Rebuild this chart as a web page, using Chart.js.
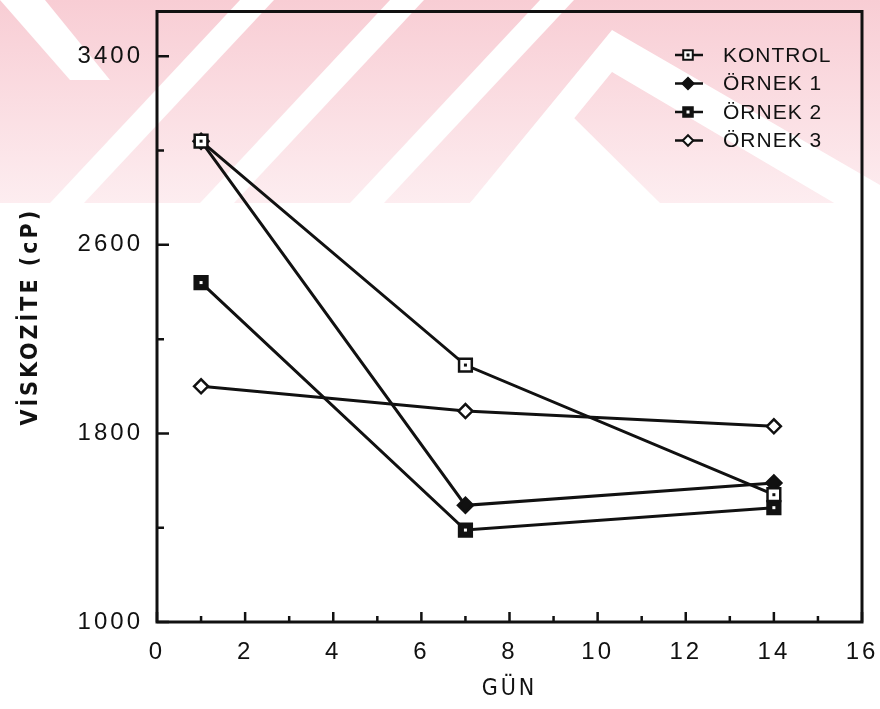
<!DOCTYPE html>
<html>
<head>
<meta charset="utf-8">
<title>Viskozite</title>
<script src="https://cdn.jsdelivr.net/npm/chart.js@4.4.1/dist/chart.umd.min.js"></script>
<style>
    html, body { margin: 0; padding: 0; background: #fff; }
    #wrap { width: 880px; height: 709px; }
</style>
</head>
<body>
<div id="wrap"><canvas id="chart" width="880" height="709"></canvas></div>
<script>
// Days of measurement (x axis)
const days = [1, 7, 14];

// Viscosity values (cP)
const kontrol = [3040, 2090, 1540];
const ornek1 = [3040, 1495, 1590];
const ornek2 = [2440, 1390, 1485];
const ornek3 = [2000, 1895, 1830];

const seriesNames = ["KONTROL", "ÖRNEK 1", "ÖRNEK 2", "ÖRNEK 3"];

// Axis ticks
const xMajorTicks = [0, 2, 4, 6, 8, 10, 12, 14, 16];
const xMinorTicks = [1, 3, 5, 7, 9, 11, 13, 15];
const yMajorTicks = [1000, 1800, 2600, 3400];
const yMinorTicks = [1400, 2200, 3000];

const INK = "#111";
const tickFont = '"Liberation Sans", Arial, sans-serif';
const titleFont = '"Liberation Sans Narrow", "DejaVu Sans Condensed", "DejaVu Sans", sans-serif';

function toPoints(values) {
    return days.map((d, i) => ({ x: d, y: values[i] }));
}

// Draw a square or diamond marker (used for the legend)
function drawMarker(ctx, style, r, x, y, fill) {
    ctx.beginPath();
    if (style === "rect") {
        const s = r * Math.SQRT1_2;
        ctx.rect(x - s, y - s, 2 * s, 2 * s);
    } else {
        ctx.moveTo(x - r, y);
        ctx.lineTo(x, y - r);
        ctx.lineTo(x + r, y);
        ctx.lineTo(x, y + r);
        ctx.closePath();
    }
    ctx.fillStyle = fill;
    ctx.fill();
    ctx.stroke();
}

// Pale pink watermark band behind the top of the figure
const watermark = {
    id: "watermark",
    beforeDraw(chart) {
        const ctx = chart.ctx;
        const band = 203;
        ctx.save();
        ctx.fillStyle = "#fff";
        ctx.fillRect(0, 0, chart.width, chart.height);
        const g = ctx.createLinearGradient(0, 0, 0, band);
        g.addColorStop(0, "#f8cdd4");
        g.addColorStop(1, "#fdedf0");
        ctx.fillStyle = g;
        ctx.fillRect(0, 0, chart.width, band);
        ctx.beginPath();
        ctx.rect(0, 0, chart.width, band);
        ctx.clip();
        ctx.fillStyle = "#fff";
        const poly = (pts) => {
            ctx.beginPath();
            pts.forEach((p, i) => (i ? ctx.lineTo(p[0], p[1]) : ctx.moveTo(p[0], p[1])));
            ctx.closePath();
            ctx.fill();
        };
        // "/" stripes
        [50, 200, 350].forEach((x0) => {
            poly([[x0, band], [x0 + 34, band], [x0 + 34 + 190, 0], [x0 + 190, 0]]);
        });
        // "\" stripe top left
        poly([[0, 0], [45, 0], [110, 80], [70, 80]]);
        // chevron on the right
        poly([[563, 107], [470, band], [660, band]]);
        poly([[612, 30], [470, 203], [505, 203], [612, 72], [880, 230], [880, 185]]);
        ctx.restore();

        // letter spacing for tick labels and titles
        ctx.letterSpacing = "3px";
    },
    beforeDatasetsDraw(chart) {
        chart.ctx.letterSpacing = "0px";
    }
};

// Frame and inward tick marks
const frame = {
    id: "frame",
    beforeDatasetsDraw(chart) {
        const { ctx, chartArea: a, scales } = chart;
        ctx.save();
        ctx.strokeStyle = INK;
        ctx.lineWidth = 3;
        ctx.strokeRect(a.left, a.top, a.right - a.left, a.bottom - a.top);
        ctx.lineWidth = 2.5;
        ctx.beginPath();
        xMajorTicks.forEach((v) => {
            const px = scales.x.getPixelForValue(v);
            ctx.moveTo(px, a.bottom);
            ctx.lineTo(px, a.bottom - 10);
        });
        xMinorTicks.forEach((v) => {
            const px = scales.x.getPixelForValue(v);
            ctx.moveTo(px, a.bottom);
            ctx.lineTo(px, a.bottom - 6);
        });
        yMajorTicks.forEach((v) => {
            const py = scales.y.getPixelForValue(v);
            ctx.moveTo(a.left, py);
            ctx.lineTo(a.left + 12, py);
        });
        yMinorTicks.forEach((v) => {
            const py = scales.y.getPixelForValue(v);
            ctx.moveTo(a.left, py);
            ctx.lineTo(a.left + 7, py);
        });
        ctx.stroke();
        ctx.restore();
    }
};

// Small dot in the centre of the square markers
const centerDots = {
    id: "centerDots",
    afterDatasetsDraw(chart) {
        const ctx = chart.ctx;
        ctx.save();
        chart.data.datasets.forEach((ds, i) => {
            if (!ds.centerDot) return;
            ctx.fillStyle = ds.centerDot;
            chart.getDatasetMeta(i).data.forEach((pt) => {
                ctx.fillRect(pt.x - 1.5, pt.y - 1.5, 3, 3);
            });
        });
        ctx.restore();
    }
};

// Legend in the top right corner of the plot
const legendBox = {
    id: "legendBox",
    afterDraw(chart) {
        const ctx = chart.ctx;
        ctx.save();
        chart.data.datasets.forEach((ds, i) => {
            const y = 55 + i * 28.5;
            ctx.strokeStyle = INK;
            ctx.lineWidth = 2.5;
            ctx.beginPath();
            ctx.moveTo(675, y);
            ctx.lineTo(703, y);
            ctx.stroke();
            ctx.lineWidth = 2;
            drawMarker(ctx, ds.pointStyle, ds.pointRadius * 0.75, 688, y, ds.pointBackgroundColor);
            if (ds.centerDot) {
                ctx.fillStyle = ds.centerDot;
                ctx.fillRect(686.5, y - 1.5, 3, 3);
            }
            ctx.fillStyle = INK;
            ctx.font = '21px "Liberation Sans", Arial, sans-serif';
            ctx.letterSpacing = "1px";
            ctx.textBaseline = "middle";
            ctx.textAlign = "left";
            ctx.fillText(ds.label, 723, y + 1);
        });
        ctx.restore();
    }
};

function lineDataset(label, values, style, radius, fill, dot) {
    return {
        label: label,
        data: toPoints(values),
        borderColor: INK,
        borderWidth: 3,
        pointStyle: style,
        pointRadius: radius,
        pointHoverRadius: radius,
        pointBackgroundColor: fill,
        pointBorderColor: INK,
        pointBorderWidth: 2.5,
        tension: 0,
        centerDot: dot
    };
}

// no extra label padding: the plot box is placed by the layout padding only
function noLabelPadding(scale) {
    scale.paddingTop = 0;
    scale.paddingBottom = 0;
    scale.paddingLeft = 0;
    scale.paddingRight = 0;
}

const ctx = document.getElementById("chart").getContext("2d");

new Chart(ctx, {
    type: "line",
    data: {
        datasets: [
            lineDataset(seriesNames[0], kontrol, "rect", 9, "#fff", INK),
            lineDataset(seriesNames[1], ornek1, "rectRot", 7.5, INK, null),
            lineDataset(seriesNames[2], ornek2, "rect", 9, INK, "#fff"),
            lineDataset(seriesNames[3], ornek3, "rectRot", 7, "#fff", null)
        ]
    },
    options: {
        responsive: false,
        animation: false,
        devicePixelRatio: 1,
        layout: { padding: { top: 8, right: 18, bottom: 0, left: 0 } },
        plugins: {
            legend: { display: false },
            tooltip: { enabled: false }
        },
        scales: {
            x: {
                type: "linear",
                min: 0,
                max: 16,
                afterBuildTicks: (scale) => {
                    scale.ticks = xMajorTicks.map((v) => ({ value: v }));
                },
                afterFit: (scale) => {
                    scale.height = 87;
                    noLabelPadding(scale);
                },
                grid: { display: false, drawTicks: false },
                border: { display: false },
                ticks: {
                    padding: 16,
                    color: INK,
                    font: { family: tickFont, size: 24 },
                    maxRotation: 0,
                    callback: (v) => String(v)
                },
                title: {
                    display: true,
                    text: "GÜN",
                    color: INK,
                    font: { family: titleFont, size: 23 },
                    padding: { top: 0, bottom: 6 }
                }
            },
            y: {
                type: "linear",
                min: 1000,
                max: 3590,
                afterBuildTicks: (scale) => {
                    scale.ticks = yMajorTicks.map((v) => ({ value: v }));
                },
                afterFit: (scale) => {
                    scale.width = 157;
                    noLabelPadding(scale);
                },
                grid: { display: false, drawTicks: false },
                border: { display: false },
                ticks: {
                    padding: 14,
                    color: INK,
                    font: { family: tickFont, size: 24 },
                    callback: (v) => String(v)
                },
                title: {
                    display: true,
                    text: "VİSKOZİTE (cP)",
                    color: INK,
                    font: { family: titleFont, size: 23, weight: "bold" },
                    padding: { top: 17, bottom: 0 }
                }
            }
        }
    },
    plugins: [watermark, frame, centerDots, legendBox]
});
</script>
</body>
</html>
